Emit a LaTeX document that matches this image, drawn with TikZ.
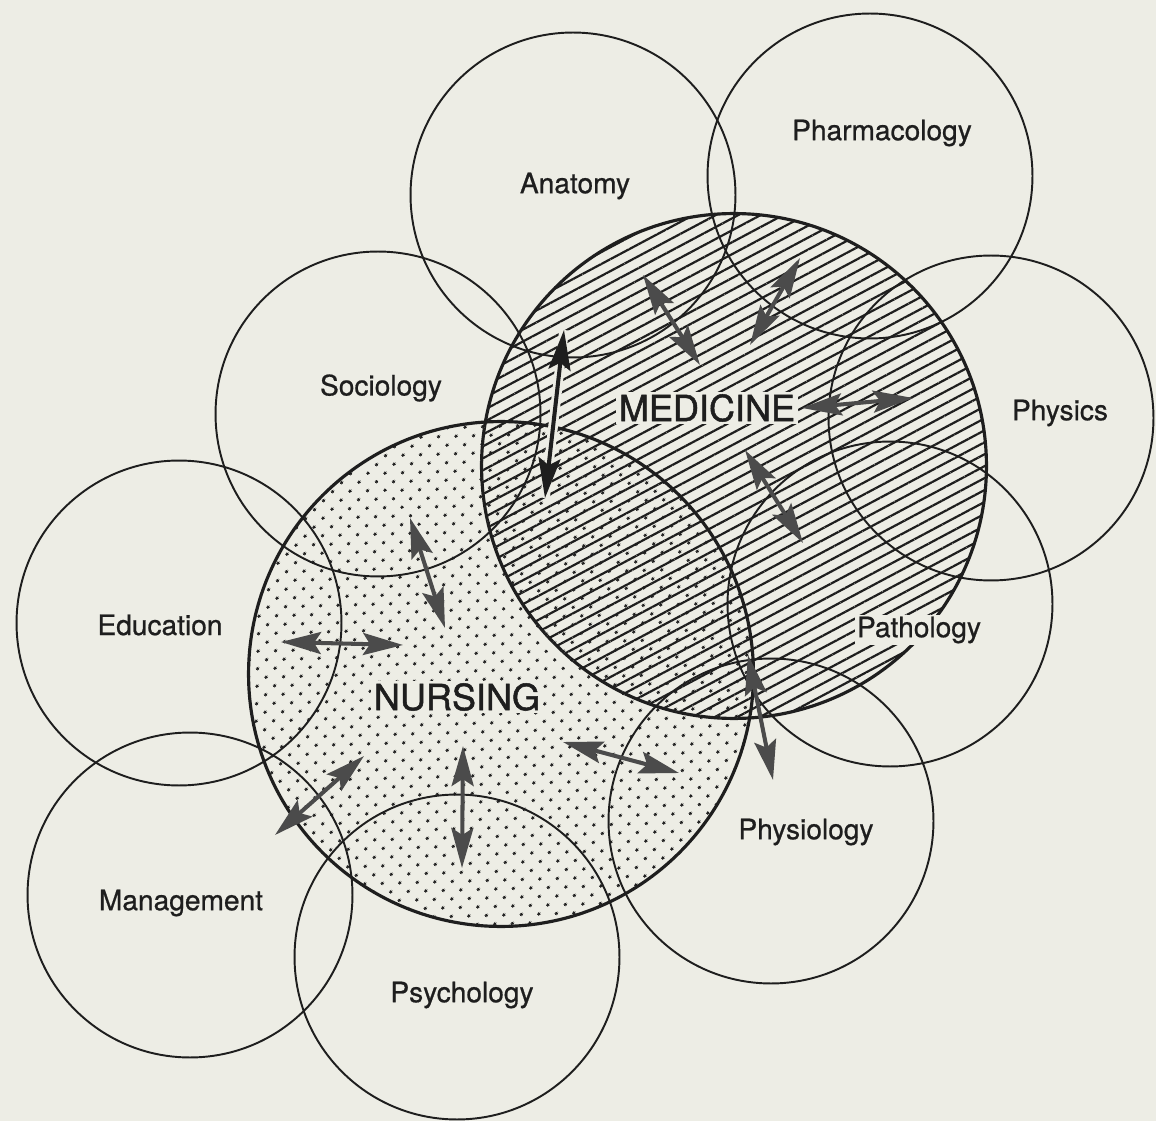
\documentclass[tikz,border=0pt]{standalone}
\usepackage{fontspec}
\setmainfont{TeX Gyre Heros}
\newfontfamily\labelfont[FakeBold=0.7]{TeX Gyre Heros}
\newfontfamily\fieldfont[FakeBold=1.4]{TeX Gyre Heros}
\usetikzlibrary{arrows.meta,patterns.meta}
\definecolor{paper}{RGB}{237,237,229}
\definecolor{ink}{RGB}{30,30,30}
\definecolor{arrowgray}{RGB}{75,75,75}
\tikzset{
  subj/.style={circle,draw=ink,line width=1.1pt,minimum size=6.5cm,inner sep=0pt},
  field/.style={circle,draw=ink,line width=1.8pt,minimum size=10.1cm,inner sep=0pt},
  lbl/.style={font=\labelfont\fontsize{16}{18}\selectfont,fill=paper,inner sep=1pt,text=ink},
  biglbl/.style={font=\fieldfont\fontsize{20.5}{24}\selectfont,fill=paper,inner sep=1.5pt,text=ink},
  link/.style={draw=arrowgray,line width=2.3pt,
    >={Stealth[length=8mm,width=4.4mm,inset=1.4mm]},<->},
  halo/.style={preaction={draw=paper,line width=5.5pt,-}},
}

\begin{document}
\begin{tikzpicture}[x=0.02cm,y=-0.02cm]
\path[use as bounding box,fill=paper] (0,0) rectangle (1156,1121);

\node[field,pattern={Lines[angle=28,distance=6pt,line width=1.25pt]},pattern color=ink] (med) at (734,466) {};
\node[field,pattern={Dots[distance=7.4pt,angle=45,radius=1pt]},pattern color=ink] (nurs) at (501,674) {};

\node[subj] (anat) at (573,195) {};
\node[subj] (pharm) at (870,176) {};
\node[subj] (phys) at (991,418) {};
\node[subj] (path) at (890,604) {};
\node[subj] (physio) at (771,821) {};
\node[subj] (psych) at (457,957) {};
\node[subj] (mgmt) at (190,895) {};
\node[subj] (edu) at (179,623) {};
\node[subj] (soc) at (378,414) {};

\node[lbl] (anatL) at (575,186) {Anatomy};
\node[lbl] (pharmL) at (882,133) {Pharmacology};
\node[lbl] (physL) at (1060,413) {Physics};
\node[lbl] (pathL) at (919,630) {Pathology};
\node[lbl] (physioL) at (806,832) {Physiology};
\node[lbl] (psychL) at (462,995) {Psychology};
\node[lbl] (mgmtL) at (181,903) {Management};
\node[lbl] (eduL) at (160,625) {Education};
\node[lbl] (socL) at (381,388) {Sociology};
\node[biglbl] (medL) at (707,408) {MEDICINE};
\node[biglbl] (nursL) at (457,697) {NURSING};

\coordinate (an1) at (643,275);
\coordinate (an2) at (700,365);
\coordinate (ph1) at (800,258);
\coordinate (ph2) at (750,345);
\coordinate (py1) at (802,408);
\coordinate (py2) at (913,398);
\coordinate (pa1) at (745,450);
\coordinate (pa2) at (803,543);
\coordinate (sm1) at (564,330);
\coordinate (sm2) at (545,498);
\coordinate (pm1) at (748,655);
\coordinate (pm2) at (773,780);

\coordinate (sn1) at (410,518);
\coordinate (sn2) at (445,628);
\coordinate (ed1) at (281,642);
\coordinate (ed2) at (403,645);
\coordinate (mg1) at (275,835);
\coordinate (mg2) at (364,756);
\coordinate (ps1) at (463,746);
\coordinate (ps2) at (462,868);
\coordinate (pn1) at (563,742);
\coordinate (pn2) at (679,773);

\draw[link] (an1) -- (an2);
\draw[link] (ph1) -- (ph2);
\draw[link] (py1) -- (py2);
\draw[link] (pa1) -- (pa2);
\draw[link,halo,draw=ink] (sm1) -- (sm2);% white edge over the hatching
\draw[link] (pm1) -- (pm2);

\draw[link] (sn1) -- (sn2);
\draw[link] (ed1) -- (ed2);
\draw[link] (mg1) -- (mg2);
\draw[link] (ps1) -- (ps2);
\draw[link] (pn1) -- (pn2);

\end{tikzpicture}
\end{document}
